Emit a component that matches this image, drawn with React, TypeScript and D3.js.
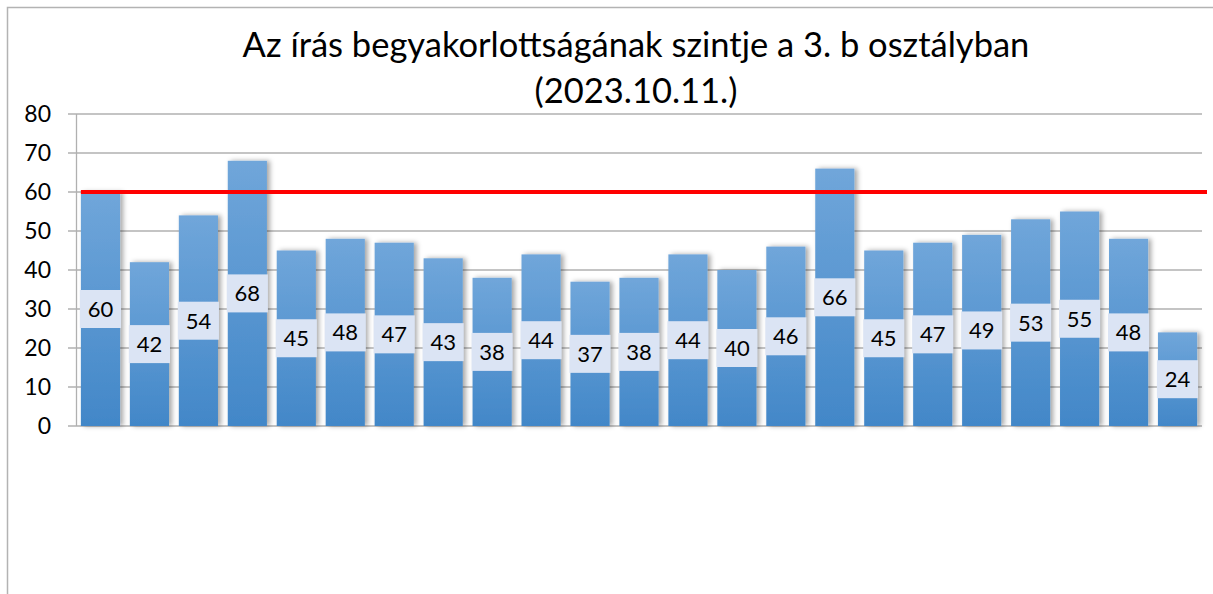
import React from "react";
import * as d3 from "d3";

const categories = Array.from({ length: 23 }, (_, i) => `${i + 1}`);
const values = [60, 42, 54, 68, 45, 48, 47, 43, 38, 44, 37, 38, 44, 40, 46, 66, 45, 47, 49, 53, 55, 48, 24];
const yTicks = [0, 10, 20, 30, 40, 50, 60, 70, 80];
const targetValue = 60;
const titleLines = ["Az írás begyakorlottságának szintje a 3. b osztályban", "(2023.10.11.)"];

const W = 1213;
const H = 594;
const FONT = "Lato, 'Open Sans', sans-serif";

export default function App() {
  const x = d3
    .scaleBand<string>()
    .domain(categories)
    .range([76, 1202])
    .paddingInner(0.2)
    .paddingOuter(0.1);
  const y = d3.scaleLinear().domain([0, 80]).range([426, 114]);
  const bw = x.bandwidth();

  return (
    <svg
      width={W}
      height={H}
      style={{ position: "absolute", left: 0, top: 0, background: "#fff" }}
      fontFamily={FONT}
    >
      <defs>
        <linearGradient id="barGrad" x1="0" y1="0" x2="0" y2="1">
          <stop offset="0%" stopColor="#70a6da" />
          <stop offset="100%" stopColor="#4287c8" />
        </linearGradient>
        <filter id="shadow" x="-20%" y="-10%" width="150%" height="120%">
          <feDropShadow dx="3" dy="0" stdDeviation="2.5" floodColor="#000" floodOpacity="0.35" />
        </filter>
      </defs>
      <rect x={7.5} y={7.5} width={1230} height={620} fill="#fff" stroke="#b3b3b3" strokeWidth={1.5} />

      {titleLines.map((t, i) => (
        <text
          key={i}
          x={636}
          y={57 + i * 46}
          textAnchor="middle"
          fontSize={34.5}
          fill="#000"
        >
          {t}
        </text>
      ))}

      {yTicks.map((t) => (
        <g key={t}>
          <line x1={68} x2={1202} y1={y(t)} y2={y(t)} stroke="#b0b0b0" strokeWidth={1.3} />
          <text x={51} y={y(t)} dy="0.36em" textAnchor="end" fontSize={23} fill="#000">
            {t}
          </text>
        </g>
      ))}
      <line x1={76.5} x2={76.5} y1={y(80)} y2={y(0)} stroke="#b0b0b0" strokeWidth={1.3} />

      {values.map((v, i) => {
        const bx = x(categories[i])!;
        return (
          <rect
            key={i}
            x={bx}
            y={y(v)}
            width={bw}
            height={y(0) - y(v)}
            fill="url(#barGrad)"
            filter="url(#shadow)"
          />
        );
      })}

      <line
        x1={x(categories[0])!}
        x2={1207}
        y1={y(targetValue)}
        y2={y(targetValue)}
        stroke="#ff0000"
        strokeWidth={4}
      />

      {values.map((v, i) => {
        const cx = x(categories[i])! + bw / 2;
        const cy = y(v / 2);
        return (
          <g key={i}>
            <rect x={cx - bw / 2 - 1} y={cy - 19} width={bw + 2} height={38} fill="#dbe4f4" />
            <text x={cx} y={cy} dy="0.36em" textAnchor="middle" fontSize={22} fill="#000">
              {v}
            </text>
          </g>
        );
      })}
    </svg>
  );
}
